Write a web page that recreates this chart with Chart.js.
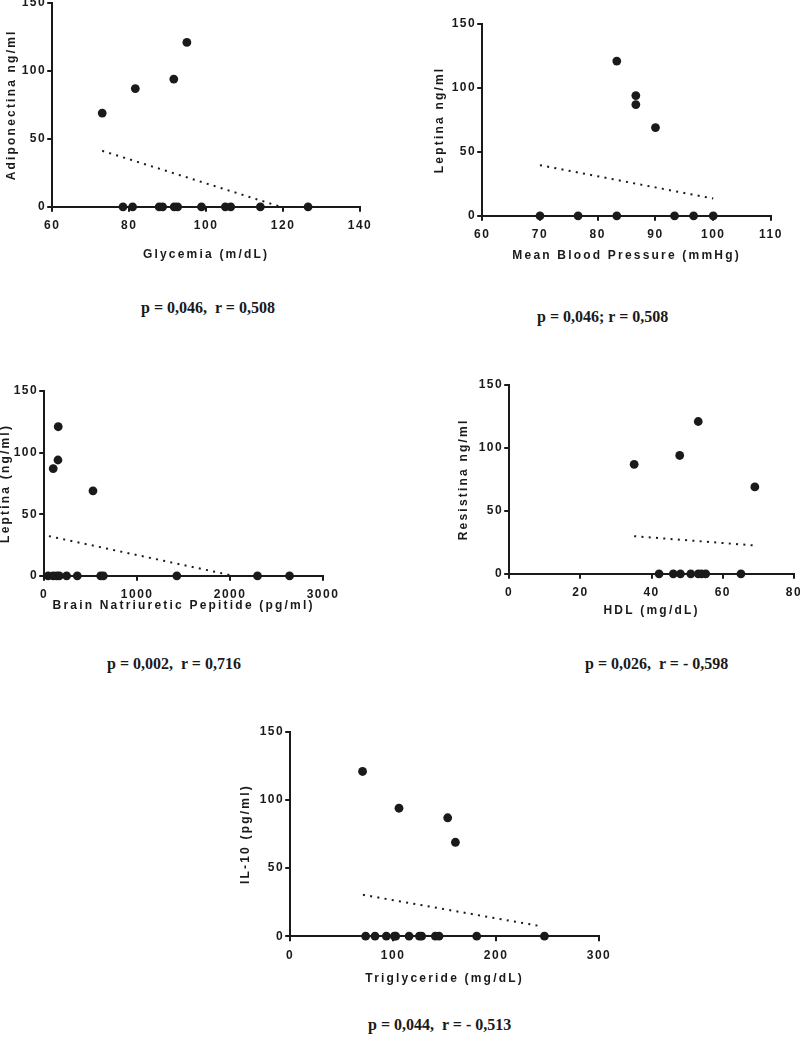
<!DOCTYPE html>
<html>
<head>
<meta charset="utf-8">
<script src="https://cdn.jsdelivr.net/npm/chart.js@4.4.0/dist/chart.umd.min.js"></script>
<style>
  html, body { margin: 0; padding: 0; background: #ffffff; }
  body { width: 800px; height: 1043px; position: relative; overflow: hidden; }
  canvas { position: absolute; }
  .stat { position: absolute; font-family: "Liberation Serif", "Times New Roman", serif; font-weight: bold;
          font-size: 16px; line-height: 20px; color: #1a1a1a; white-space: pre; }
</style>
</head>
<body>
<canvas id="c1"></canvas>
<canvas id="c2"></canvas>
<canvas id="c3"></canvas>
<canvas id="c4"></canvas>
<canvas id="c5"></canvas>
<div class="stat" id="s1"></div>
<div class="stat" id="s2"></div>
<div class="stat" id="s3"></div>
<div class="stat" id="s4"></div>
<div class="stat" id="s5"></div>
<script>
// ---------------- DATA ----------------
const yTicks = [0, 50, 100, 150];

// Panel 1: Glycemia vs Adiponectina
const glyTicks = [60, 80, 100, 120, 140];
const glyX = [73, 81.6, 91.6, 95, 78.4, 80.9, 87.8, 88.7, 91.7, 92.6, 98.8, 105, 106.4, 114.1, 126.5];
const glyY = [69, 87, 94, 121, 0, 0, 0, 0, 0, 0, 0, 0, 0, 0, 0];
const glyTrendX = [73, 119.4];
const glyTrendY = [41.2, 0];

// Panel 2: Mean Blood Pressure vs Leptina
const mbpTicks = [60, 70, 80, 90, 100, 110];
const mbpX = [83.3, 86.6, 86.6, 90, 70, 76.6, 83.3, 93.3, 96.6, 100];
const mbpY = [121, 94, 87, 69, 0, 0, 0, 0, 0, 0];
const mbpTrendX = [70, 100];
const mbpTrendY = [39.6, 13.5];

// Panel 3: BNP vs Leptina
const bnpTicks = [0, 1000, 2000, 3000];
const bnpX = [151, 148, 97, 525, 43, 97, 134, 162, 241, 356, 608, 636, 1427, 2295, 2640];
const bnpY = [121, 94, 87, 69, 0, 0, 0, 0, 0, 0, 0, 0, 0, 0, 0];
const bnpTrendX = [51, 2037];
const bnpTrendY = [32.2, 0];

// Panel 4: HDL vs Resistina
const hdlTicks = [0, 20, 40, 60, 80];
const hdlX = [53.1, 47.9, 35.1, 69, 42.1, 46.1, 48.1, 51.0, 53.1, 54.0, 55.2, 65.1];
const hdlY = [121, 94, 87, 69, 0, 0, 0, 0, 0, 0, 0, 0];
const hdlTrendX = [35.1, 69];
const hdlTrendY = [29.9, 22.5];

// Panel 5: Triglyceride vs IL-10
const tgTicks = [0, 100, 200, 300];
const tgX = [70.3, 105.7, 153, 160.5, 73.3, 82.4, 93.4, 101.2, 102.5, 115.5, 125.5, 127.7, 141, 144.6, 181.2, 247];
const tgY = [121, 94, 87, 69, 0, 0, 0, 0, 0, 0, 0, 0, 0, 0, 0, 0];
const tgTrendX = [70.7, 243];
const tgTrendY = [30.4, 7.4];

const xTitles = ["Glycemia (m/dL)", "Mean Blood Pressure (mmHg)", "Brain Natriuretic Pepitide (pg/ml)", "HDL (mg/dL)", "Triglyceride (mg/dL)"];
const yTitles = ["Adiponectina ng/ml", "Leptina ng/ml", "Leptina (ng/ml)", "Resistina ng/ml", "IL-10 (pg/ml)"];
const statTexts = ["p = 0,046,  r = 0,508", "p = 0,046; r = 0,508", "p = 0,002,  r = 0,716", "p = 0,026,  r = - 0,598", "p = 0,044,  r = - 0,513"];

// ---------------- LETTER SPACING PATCH ----------------
if (Chart.Scale) {
  const S = Chart.Scale.prototype;
  const oT = S.drawTitle, oL = S.drawLabels;
  S.drawTitle = function (...a) { const c = this.ctx; c.letterSpacing = '2.2px'; oT.apply(this, a); c.letterSpacing = '0px'; };
  S.drawLabels = function (...a) { const c = this.ctx; c.letterSpacing = '1.5px'; oL.apply(this, a); c.letterSpacing = '0px'; };
}

const INK = '#1a1a1a';
const FONT = "'Liberation Sans', Arial, sans-serif";

function pts(xs, ys) { return xs.map((x, i) => ({ x: x, y: ys[i] })); }

// layout boxes (pixel geometry only)
const layouts = [
  { l: 51.7, r: 359,   t: 3,     b: 206.7, yOff: 41, xOff: 48 },
  { l: 482.5, r: 771.5, t: 23.6,  b: 215,   yOff: 43, xOff: 40 },
  { l: 44.3, r: 322.7, t: 390.8, b: 575.3, yOff: 39, xOff: 30 },
  { l: 509.3, r: 793.7, t: 384.7, b: 573.7, yOff: 46, xOff: 37 },
  { l: 290,  r: 598.4, t: 731.7, b: 935.7, yOff: 45, xOff: 42.6 }
];

const panels = [
  { x: glyX, y: glyY, tx: glyTrendX, ty: glyTrendY, ticks: glyTicks },
  { x: mbpX, y: mbpY, tx: mbpTrendX, ty: mbpTrendY, ticks: mbpTicks },
  { x: bnpX, y: bnpY, tx: bnpTrendX, ty: bnpTrendY, ticks: bnpTicks },
  { x: hdlX, y: hdlY, tx: hdlTrendX, ty: hdlTrendY, ticks: hdlTicks },
  { x: tgX,  y: tgY,  tx: tgTrendX,  ty: tgTrendY,  ticks: tgTicks }
];

const TITLE_SIZE = 12, TICK_SIZE = 12;
const PT = 12, PR = 24;

panels.forEach((p, i) => {
  const L = layouts[i];
  const half = TITLE_SIZE * 1.2 / 2;
  const W = L.yOff + half;
  const H = L.xOff + half;
  const cv = document.getElementById('c' + (i + 1));
  const cw = Math.round(L.r - L.l + W + PR);
  const ch = Math.round(L.b - L.t + PT + H);
  cv.width = cw; cv.height = ch;
  cv.style.width = cw + 'px'; cv.style.height = ch + 'px';
  cv.style.left = (L.l - W) + 'px';
  cv.style.top = (L.t - PT) + 'px';

  const tickOpts = (arr) => ({
    stepSize: arr[1] - arr[0], autoSkip: false, maxRotation: 0, color: INK,
    font: { family: FONT, size: TICK_SIZE, weight: 'bold' },
    callback: (v) => String(v)
  });
  const gridOpts = { drawOnChartArea: false, drawTicks: true, tickLength: 5, lineWidth: 2, color: INK };
  const borderOpts = { display: true, width: 2, color: INK };
  const titleOpts = (t) => ({ display: true, text: t, color: INK, padding: 0,
    font: { family: FONT, size: TITLE_SIZE, weight: 'bold' } });

  new Chart(cv, {
    type: 'scatter',
    data: {
      datasets: [
        { data: pts(p.tx, p.ty), showLine: true, borderColor: INK, borderWidth: 2,
          borderDash: [2, 5.3], pointRadius: 0, clip: false, order: 2 },
        { data: pts(p.x, p.y), pointRadius: 4.4, pointHoverRadius: 4.4, pointBackgroundColor: INK,
          pointBorderColor: INK, pointBorderWidth: 0, clip: false, order: 1 }
      ]
    },
    options: {
      responsive: false, animation: false, devicePixelRatio: 1,
      layout: { padding: { top: PT, right: PR, left: 0, bottom: 0 } },
      plugins: { legend: { display: false }, tooltip: { enabled: false } },
      events: [],
      scales: {
        x: { type: 'linear', position: 'bottom', min: p.ticks[0], max: p.ticks[p.ticks.length - 1],
             ticks: Object.assign(tickOpts(p.ticks), { padding: 7 }),
             grid: gridOpts, border: borderOpts, title: titleOpts(xTitles[i]),
             afterFit: (s) => { s.height = H; } },
        y: { type: 'linear', position: 'left', min: yTicks[0], max: yTicks[yTicks.length - 1],
             ticks: Object.assign(tickOpts(yTicks), { padding: 1 }),
             grid: gridOpts, border: borderOpts, title: titleOpts(yTitles[i]),
             afterFit: (s) => { s.width = W; } }
      }
    }
  });
});

// stats text
const statPos = [
  { left: 141, cy: 308 }, { left: 537, cy: 317 }, { left: 107, cy: 664 },
  { left: 585, cy: 664 }, { left: 368, cy: 1025 }
];
statTexts.forEach((t, i) => {
  const el = document.getElementById('s' + (i + 1));
  el.textContent = t;
  el.style.left = statPos[i].left + 'px';
  el.style.top = (statPos[i].cy - 10) + 'px';
});
</script>
</body>
</html>
